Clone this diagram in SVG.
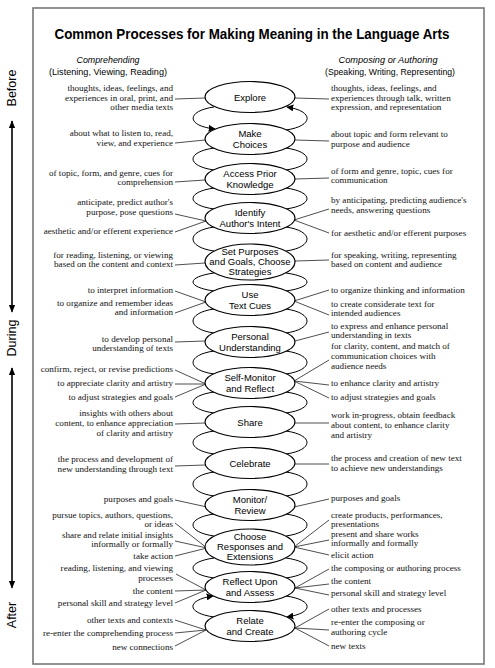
<svg xmlns="http://www.w3.org/2000/svg" width="495" height="668" viewBox="0 0 495 668">
<defs>
<marker id="ah" viewBox="0 0 10 10" refX="9" refY="5" markerWidth="7" markerHeight="7" markerUnits="userSpaceOnUse" orient="auto"><path d="M0,0 L10,5 L0,10 Z" fill="#000"/></marker>
<marker id="tl" viewBox="0 0 10 10" refX="9" refY="5" markerWidth="8" markerHeight="8" markerUnits="userSpaceOnUse" orient="auto"><path d="M0,1 L10,5 L0,9 Z" fill="#000"/></marker>
</defs>
<style>
.frame{fill:#fff;stroke:#777;stroke-width:1.6}
.node ellipse{fill:#fff;stroke:#000;stroke-width:1.2}
.nl{font-family:"Liberation Sans",Arial,sans-serif;font-size:9.5px;text-anchor:middle;fill:#000}
.side{font-family:"Liberation Serif","Times New Roman",serif;font-size:9.1px;fill:#111}
.l{text-anchor:end}
.r{text-anchor:start}
.hd{font-family:"Liberation Sans",Arial,sans-serif;font-size:9.5px;text-anchor:middle;fill:#000}
.conn line{stroke:#222;stroke-width:0.8}
.conn path{fill:none;stroke:#000;stroke-width:1}
.tl{stroke:#000;stroke-width:1.1}
.tlt{font-family:"Liberation Sans",Arial,sans-serif;font-size:12.5px;text-anchor:middle;fill:#000}
</style>
<rect width="495" height="668" fill="#fff"/>
<rect class="frame" x="33" y="8" width="451" height="656"/>
<text x="252" y="39" font-family="Liberation Sans, Arial, sans-serif" font-size="14" font-weight="bold" text-anchor="middle" textLength="395" lengthAdjust="spacingAndGlyphs">Common Processes for Making Meaning in the Language Arts</text>
<g id="headers">
<text class="hd" x="108" y="63" font-style="italic" textLength="63" lengthAdjust="spacingAndGlyphs">Comprehending</text>
<text class="hd" x="108" y="75" textLength="118" lengthAdjust="spacingAndGlyphs">(Listening, Viewing, Reading)</text>
<text class="hd" x="388" y="63" font-style="italic" textLength="99" lengthAdjust="spacingAndGlyphs">Composing or Authoring</text>
<text class="hd" x="390" y="75" textLength="130" lengthAdjust="spacingAndGlyphs">(Speaking, Writing, Representing)</text>
</g>
<g id="timeline">
<text class="tlt" transform="translate(16,88) rotate(-90)">Before</text>
<line class="tl" x1="12" y1="310" x2="12" y2="121" marker-end="url(#tl)"/>
<line class="tl" x1="12" y1="121" x2="12" y2="312" marker-end="url(#tl)"/>
<text class="tlt" transform="translate(16,338) rotate(-90)">During</text>
<line class="tl" x1="12" y1="586" x2="12" y2="368" marker-end="url(#tl)"/>
<line class="tl" x1="12" y1="368" x2="12" y2="588" marker-end="url(#tl)"/>
<text class="tlt" transform="translate(16,615) rotate(-90)">After</text>
</g>
<g id="connectors" class="conn">
<path d="M214,107 C186,111 186,126 215,129" marker-end="url(#ah)"/>
<path d="M286,130 C314,126 314,111 287,107" marker-end="url(#ah)"/>
<path d="M214,148 C186,152 186,166 214,170"/>
<path d="M286,148 C314,152 314,166 286,170"/>
<path d="M214,188 C186,192 186,205 214,209"/>
<path d="M286,188 C314,192 314,205 286,209"/>
<path d="M214,227 C186,231 186,247 214,251"/>
<path d="M286,227 C314,231 314,247 286,251"/>
<path d="M214,273 C186,277 186,287 214,291"/>
<path d="M286,273 C314,277 314,287 286,291"/>
<path d="M214,309 C186,313 186,329 214,333"/>
<path d="M286,309 C314,313 314,329 286,333"/>
<path d="M214,351 C186,355 186,370 214,374"/>
<path d="M286,351 C314,355 314,370 286,374"/>
<path d="M214,392 C186,396 186,409 214,413"/>
<path d="M286,392 C314,396 314,409 286,413"/>
<path d="M214,431 C186,435 186,450 214,454"/>
<path d="M286,431 C314,435 314,450 286,454"/>
<path d="M214,472 C186,476 186,492 214,496"/>
<path d="M286,472 C314,476 314,492 286,496"/>
<path d="M214,514 C186,518 186,532 214,536"/>
<path d="M286,514 C314,518 314,532 286,536"/>
<path d="M214,558 C186,562 186,574 214,578"/>
<path d="M286,558 C314,562 314,574 286,578"/>
<path d="M214,617 C186,613 186,600 213,596" marker-end="url(#ah)"/>
<path d="M286,596 C314,600 314,613 287,617" marker-end="url(#ah)"/>
<line x1="175" y1="99" x2="205" y2="98"/>
<line x1="295" y1="98" x2="329" y2="99"/>
<line x1="175" y1="143" x2="205" y2="140"/>
<line x1="295" y1="140" x2="329" y2="141"/>
<line x1="175" y1="182" x2="205" y2="180"/>
<line x1="295" y1="179" x2="329" y2="178"/>
<line x1="175" y1="214" x2="206" y2="221"/>
<line x1="175" y1="232" x2="206" y2="221"/>
<line x1="294" y1="220" x2="329" y2="209"/>
<line x1="294" y1="220" x2="329" y2="233"/>
<line x1="175" y1="265" x2="205" y2="263"/>
<line x1="295" y1="261" x2="329" y2="260"/>
<line x1="175" y1="291" x2="206" y2="302"/>
<line x1="175" y1="313" x2="206" y2="302"/>
<line x1="294" y1="301" x2="329" y2="290"/>
<line x1="294" y1="301" x2="329" y2="315"/>
<line x1="175" y1="342" x2="205" y2="341"/>
<line x1="295" y1="341" x2="329" y2="332"/>
<line x1="175" y1="370" x2="206" y2="384"/>
<line x1="175" y1="384" x2="206" y2="384"/>
<line x1="175" y1="397" x2="206" y2="384"/>
<line x1="294" y1="381" x2="329" y2="360"/>
<line x1="294" y1="381" x2="329" y2="385"/>
<line x1="294" y1="381" x2="329" y2="398"/>
<line x1="175" y1="424" x2="205" y2="423"/>
<line x1="295" y1="423" x2="329" y2="423"/>
<line x1="175" y1="466" x2="205" y2="465"/>
<line x1="295" y1="464" x2="329" y2="464"/>
<line x1="175" y1="500" x2="207" y2="507"/>
<line x1="294" y1="507" x2="329" y2="499"/>
<line x1="175" y1="523" x2="207" y2="548"/>
<line x1="175" y1="541" x2="207" y2="548"/>
<line x1="175" y1="556" x2="207" y2="548"/>
<line x1="294" y1="547" x2="329" y2="520"/>
<line x1="294" y1="547" x2="329" y2="540"/>
<line x1="294" y1="547" x2="329" y2="555"/>
<line x1="176" y1="574" x2="206" y2="590"/>
<line x1="175" y1="591" x2="206" y2="590"/>
<line x1="175" y1="603" x2="206" y2="590"/>
<line x1="295" y1="588" x2="329" y2="569"/>
<line x1="295" y1="588" x2="329" y2="584"/>
<line x1="295" y1="588" x2="329" y2="595"/>
<line x1="175" y1="620" x2="206" y2="630"/>
<line x1="175" y1="633" x2="206" y2="630"/>
<line x1="175" y1="646" x2="206" y2="630"/>
<line x1="295" y1="628" x2="329" y2="609"/>
<line x1="295" y1="628" x2="329" y2="630"/>
<line x1="295" y1="628" x2="329" y2="646"/>
</g>
<g id="explore" class="node"><ellipse cx="250" cy="97" rx="45" ry="15.5"/><text class="nl" x="250" y="101">Explore</text></g>
<g id="make-choices" class="node"><ellipse cx="250" cy="139" rx="45" ry="15.5"/><text class="nl" x="250" y="136.5">Make</text><text class="nl" x="250" y="147.5">Choices</text></g>
<g id="access-prior-knowledge" class="node"><ellipse cx="250" cy="179" rx="45" ry="15.5"/><text class="nl" x="250" y="176.5">Access Prior</text><text class="nl" x="250" y="187.5">Knowledge</text></g>
<g id="identify-authors-intent" class="node"><ellipse cx="250" cy="218" rx="45" ry="15.5"/><text class="nl" x="250" y="215.5">Identify</text><text class="nl" x="250" y="226.5">Author's Intent</text></g>
<g id="set-purposes" class="node"><ellipse cx="250" cy="262" rx="45" ry="18"/><text class="nl" x="250" y="255.3" font-size="9">Set Purposes</text><text class="nl" x="250" y="265.3" font-size="9">and Goals, Choose</text><text class="nl" x="250" y="275.3" font-size="9">Strategies</text></g>
<g id="use-text-cues" class="node"><ellipse cx="250" cy="300" rx="45" ry="15.5"/><text class="nl" x="250" y="297.5">Use</text><text class="nl" x="250" y="308.5">Text Cues</text></g>
<g id="personal-understanding" class="node"><ellipse cx="250" cy="342" rx="45" ry="15.5"/><text class="nl" x="250" y="339.5">Personal</text><text class="nl" x="250" y="350.5">Understanding</text></g>
<g id="self-monitor" class="node"><ellipse cx="250" cy="383" rx="45" ry="15.5"/><text class="nl" x="250" y="380.5">Self-Monitor</text><text class="nl" x="250" y="391.5">and Reflect</text></g>
<g id="share" class="node"><ellipse cx="250" cy="422" rx="45" ry="15.5"/><text class="nl" x="250" y="425.5">Share</text></g>
<g id="celebrate" class="node"><ellipse cx="250" cy="463" rx="45" ry="15.5"/><text class="nl" x="250" y="466.5">Celebrate</text></g>
<g id="monitor-review" class="node"><ellipse cx="250" cy="505" rx="45" ry="15.5"/><text class="nl" x="250" y="502.5">Monitor/</text><text class="nl" x="250" y="513.5">Review</text></g>
<g id="choose-responses" class="node"><ellipse cx="250" cy="547" rx="45" ry="18"/><text class="nl" x="250" y="540.3" font-size="9">Choose</text><text class="nl" x="250" y="550.3" font-size="9">Responses and</text><text class="nl" x="250" y="560.3" font-size="9">Extensions</text></g>
<g id="reflect-assess" class="node"><ellipse cx="250" cy="587" rx="45" ry="15.5"/><text class="nl" x="250" y="584.5">Reflect Upon</text><text class="nl" x="250" y="595.5">and Assess</text></g>
<g id="relate-create" class="node"><ellipse cx="250" cy="626" rx="45" ry="15.5"/><text class="nl" x="250" y="623.5">Relate</text><text class="nl" x="250" y="634.5">and Create</text></g>
<g id="comprehending-notes" class="side l">
<text x="173" y="91">thoughts, ideas, feelings, and</text>
<text x="173" y="101">experiences in oral, print, and</text>
<text x="173" y="110">other media texts</text>
<text x="173" y="136">about what to listen to, read,</text>
<text x="173" y="146">view, and experience</text>
<text x="173" y="176">of topic, form, and genre, cues for</text>
<text x="173" y="185">comprehension</text>
<text x="173" y="205">anticipate, predict author's</text>
<text x="173" y="215">purpose, pose questions</text>
<text x="173" y="234">aesthetic and/or efferent experience</text>
<text x="173" y="258">for reading, listening, or viewing</text>
<text x="173" y="267">based on the content and context</text>
<text x="173" y="293">to interpret information</text>
<text x="173" y="306">to organize and remember ideas</text>
<text x="173" y="315">and information</text>
<text x="173" y="342">to develop personal</text>
<text x="173" y="351">understanding of texts</text>
<text x="173" y="372">confirm, reject, or revise predictions</text>
<text x="173" y="386">to appreciate clarity and artistry</text>
<text x="173" y="400">to adjust strategies and goals</text>
<text x="173" y="416">insights with others about</text>
<text x="173" y="426">content, to enhance appreciation</text>
<text x="173" y="436">of clarity and artistry</text>
<text x="173" y="462">the process and development of</text>
<text x="173" y="472">new understanding through text</text>
<text x="173" y="502">purposes and goals</text>
<text x="173" y="518">pursue topics, authors, questions,</text>
<text x="173" y="527">or ideas</text>
<text x="173" y="538">share and relate initial insights</text>
<text x="173" y="547">informally or formally</text>
<text x="173" y="559">take action</text>
<text x="173" y="571">reading, listening, and viewing</text>
<text x="173" y="581">processes</text>
<text x="173" y="594">the content</text>
<text x="173" y="606">personal skill and strategy level</text>
<text x="173" y="623">other texts and contexts</text>
<text x="173" y="636">re-enter the comprehending process</text>
<text x="173" y="650">new connections</text>
</g>
<g id="composing-notes" class="side r">
<text x="331" y="91">thoughts, ideas, feelings, and</text>
<text x="331" y="101">experiences through talk, written</text>
<text x="331" y="110">expression, and representation</text>
<text x="331" y="137">about topic and form relevant to</text>
<text x="331" y="147">purpose and audience</text>
<text x="331" y="174">of form and genre, topic, cues for</text>
<text x="331" y="183">communication</text>
<text x="331" y="203">by anticipating, predicting audience's</text>
<text x="331" y="213">needs, answering questions</text>
<text x="331" y="236">for aesthetic and/or efferent purposes</text>
<text x="331" y="258">for speaking, writing, representing</text>
<text x="331" y="267">based on content and audience</text>
<text x="331" y="293">to organize thinking and information</text>
<text x="331" y="307">to create considerate text for</text>
<text x="331" y="316">intended audiences</text>
<text x="331" y="329">to express and enhance personal</text>
<text x="331" y="338">understanding in texts</text>
<text x="331" y="349">for clarity, content, and match of</text>
<text x="331" y="359">communication choices with</text>
<text x="331" y="369">audience needs</text>
<text x="331" y="386">to enhance clarity and artistry</text>
<text x="331" y="400">to adjust strategies and goals</text>
<text x="331" y="418">work in-progress, obtain feedback</text>
<text x="331" y="428">about content, to enhance clarity</text>
<text x="331" y="438">and artistry</text>
<text x="331" y="461">the process and creation of new text</text>
<text x="331" y="471">to achieve new understandings</text>
<text x="331" y="501">purposes and goals</text>
<text x="331" y="518">create products, performances,</text>
<text x="331" y="527">presentations</text>
<text x="331" y="537">present and share works</text>
<text x="331" y="546">informally and formally</text>
<text x="331" y="558">elicit action</text>
<text x="331" y="571">the composing or authoring process</text>
<text x="331" y="584">the content</text>
<text x="331" y="596">personal skill and strategy level</text>
<text x="331" y="612">other texts and processes</text>
<text x="331" y="625">re-enter the composing or</text>
<text x="331" y="635">authoring cycle</text>
<text x="331" y="649">new texts</text>
</g>
</svg>
